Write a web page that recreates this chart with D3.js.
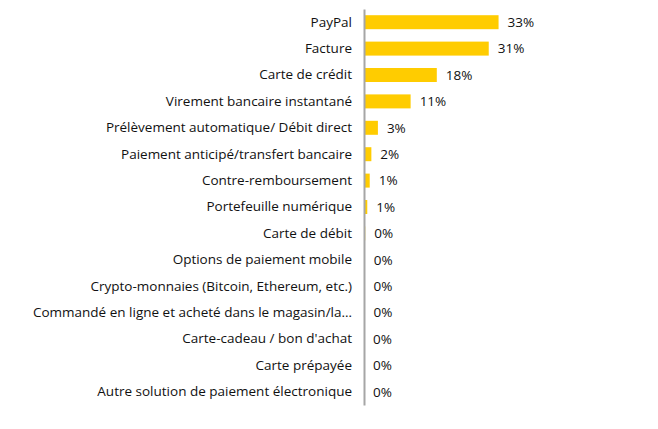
<!DOCTYPE html>
<html>
<head>
<meta charset="utf-8">
<script src="https://cdn.jsdelivr.net/npm/d3@7"></script>
<style>
  body { margin: 0; background: #fff; }
  text { font-family: "Open Sans", "Noto Sans", sans-serif; }
</style>
</head>
<body>
<div id="chart"></div>
<script>
// payment methods, top to bottom
var categories = [
  "PayPal",
  "Facture",
  "Carte de crédit",
  "Virement bancaire instantané",
  "Prélèvement automatique/ Débit direct",
  "Paiement anticipé/transfert bancaire",
  "Contre-remboursement",
  "Portefeuille numérique",
  "Carte de débit",
  "Options de paiement mobile",
  "Crypto-monnaies (Bitcoin, Ethereum, etc.)",
  "Commandé en ligne et acheté dans le magasin/la…",
  "Carte-cadeau / bon d'achat",
  "Carte prépayée",
  "Autre solution de paiement électronique"
];
// share in percent
var shares = [32.9, 30.5, 17.8, 11.4, 3.4, 1.8, 1.4, 0.8, 0.3, 0.2, 0.1, 0.1, 0, 0, 0];
// printed labels
var shareLabels = ["33%", "31%", "18%", "11%", "3%", "2%", "1%", "1%", "0%", "0%", "0%", "0%", "0%", "0%", "0%"];

var width = 658, height = 429;
var margin = {top: 9, left: 364, bottom: 24};

var svg = d3.select("#chart").append("svg")
  .attr("width", width)
  .attr("height", height);

var x = d3.scaleLinear()
  .domain([0, 100])
  .range([margin.left, margin.left + 409]);

var y = d3.scaleBand()
  .domain(categories)
  .range([margin.top, height - margin.bottom])
  .paddingInner(0.47)
  .paddingOuter(0.235);

var rows = categories.map(function(c, i) {
  return {name: c, value: shares[i], label: shareLabels[i]};
});

// bars
svg.selectAll("rect.bar")
  .data(rows)
  .enter().append("rect")
    .attr("class", "bar")
    .attr("x", x(0))
    .attr("y", function(d) { return y(d.name); })
    .attr("width", function(d) { return x(d.value) - x(0); })
    .attr("height", y.bandwidth())
    .attr("fill", "#ffcc00");

// axis line + category labels
var yAxis = d3.axisLeft(y).tickSize(0).tickPadding(12);
var ax = svg.append("g")
  .attr("transform", "translate(" + x(0) + ",0)")
  .call(yAxis);
ax.select(".domain")
  .attr("stroke", "#a6a6a6")
  .attr("stroke-width", 2);
ax.selectAll("text")
  .attr("font-size", 13.5)
  .attr("fill", "#111")
  .style("font-family", "'Open Sans', sans-serif");

// value labels
svg.selectAll("text.val")
  .data(rows)
  .enter().append("text")
    .attr("class", "val")
    .attr("x", function(d) { return x(d.value) + 9; })
    .attr("y", function(d) { return y(d.name) + y.bandwidth() / 2; })
    .attr("dy", "0.35em")
    .attr("font-size", 13.5)
    .attr("fill", "#111")
    .text(function(d) { return d.label; });
</script>
</body>
</html>
